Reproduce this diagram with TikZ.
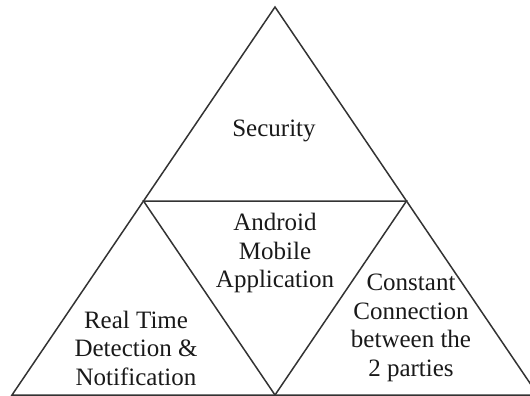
\documentclass[tikz,border=0pt]{standalone}
\usepackage{fontspec}
\setmainfont{Liberation Serif}
\begin{document}
\begin{tikzpicture}[x=1pt,y=-1pt,
  edge/.style={draw=black!80,line width=1.5pt,line join=miter},
  lbl/.style={align=center,inner sep=0pt,font=\fontsize{25}{28.5}\selectfont,text=black!90}]
\useasboundingbox (0,0) rectangle (530,396);
\clip (0,0) rectangle (530,396);
\coordinate (A) at (275,7);
\coordinate (BL) at (12,395);
\coordinate (BR) at (538,395);
\coordinate (ML) at (143.5,201);
\coordinate (MR) at (406.5,201);
\coordinate (MB) at (275,395);
\draw[edge] (A) -- (BL) -- (BR) -- cycle;
\draw[edge] (ML) -- (MR) -- (MB) -- cycle;
\node[lbl] (sec) at (274,131) {Security};
\node[lbl] (and) at (275,253) {Android\\Mobile\\Application};
\node[lbl] (rtd) at (136,348) {Real Time\\Detection \&\\Notification};
\node[lbl] (con) at (411,328) {Constant\\Connection\\between the\\2 parties};
\end{tikzpicture}
\end{document}
